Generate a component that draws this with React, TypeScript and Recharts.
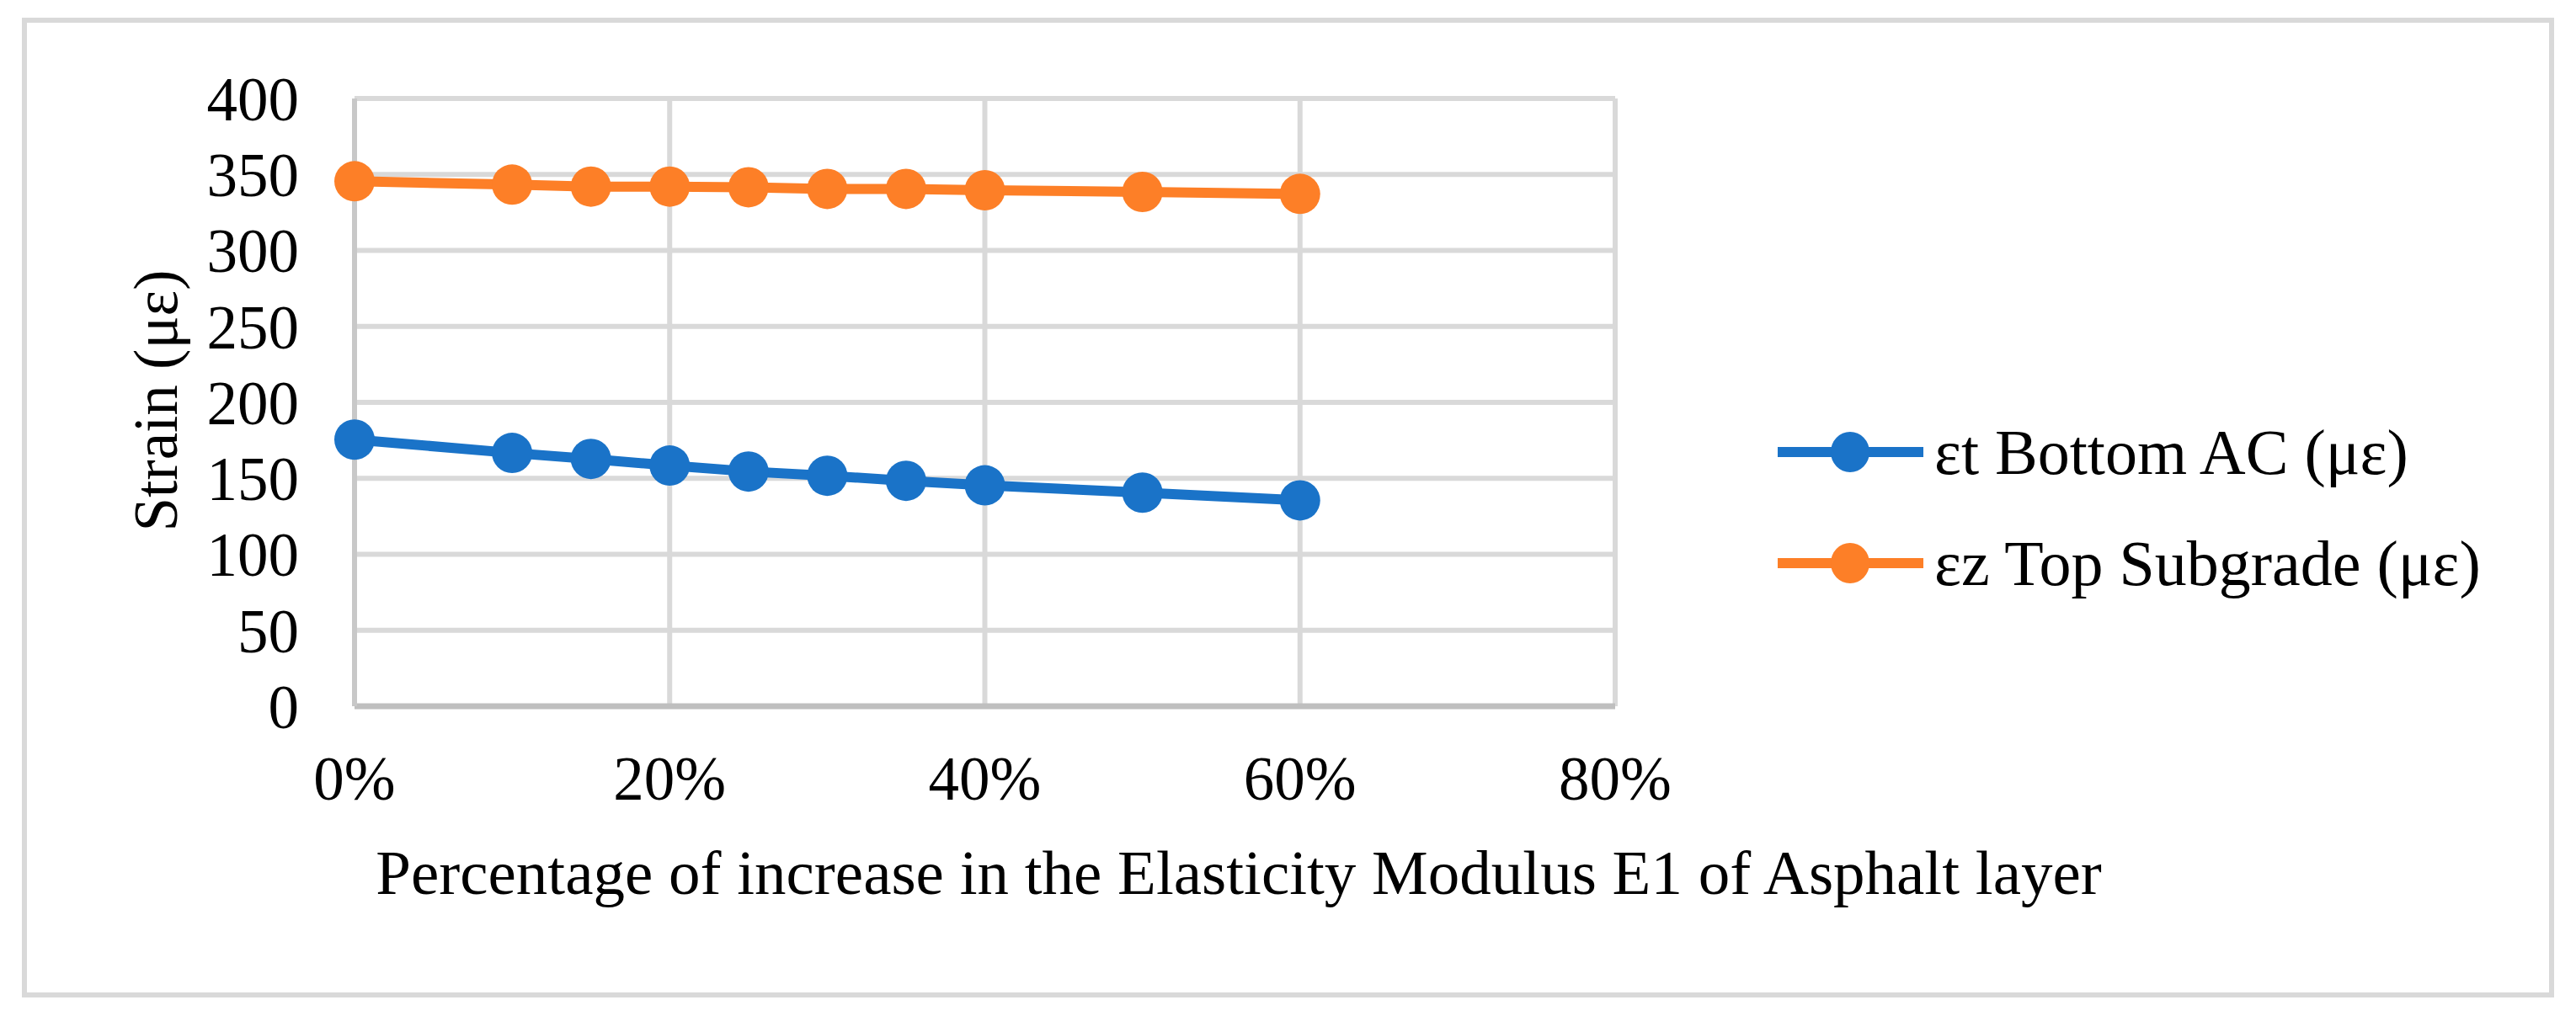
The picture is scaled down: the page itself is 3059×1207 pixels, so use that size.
import { LineChart, Line, XAxis, YAxis, CartesianGrid, Legend, Label } from 'recharts'

/* ── data ── */

const increasePct = [0, 0.1, 0.15, 0.2, 0.25, 0.3, 0.35, 0.4, 0.5, 0.6]
const strainBottomAC = [175.5, 166.7, 162.8, 158.4, 154.5, 151.7, 148.4, 145.4, 140.6, 135.5]
const strainTopSubgrade = [345.5, 343.3, 342, 342, 341.6, 340.5, 340.5, 339.6, 338.5, 337.2]
const xTicks = [0, 0.2, 0.4, 0.6, 0.8]
const yTicks = [0, 50, 100, 150, 200, 250, 300, 350, 400]

const SERIES = [
  { key: 'bottomAC', name: 'εt Bottom AC (με)', color: '#1A73C8' },
  { key: 'topSubgrade', name: 'εz Top Subgrade (με)', color: '#FD7F27' },
]

const FONT = '"Liberation Serif", "Times New Roman", serif'
const FS = 73
const LEGEND_W = 940

const data = increasePct.map((x, i) => ({
  x,
  bottomAC: strainBottomAC[i],
  topSubgrade: strainTopSubgrade[i],
}))

function fmtPct(v: number) {
  return Math.round(v * 100) + '%'
}

function LegendBox() {
  return (
    <div style={{ fontFamily: FONT, fontSize: 76, color: '#000' }}>
      {SERIES.map((s) => (
        <div key={s.key} style={{ display: 'flex', alignItems: 'center', height: 132 }}>
          <svg width={186} height={60} style={{ display: 'block' }}>
            <line x1={0} y1={30} x2={173} y2={30} stroke={s.color} strokeWidth={12} />
            <ellipse cx={86} cy={30} rx={23} ry={24} fill={s.color} />
          </svg>
          <span style={{ whiteSpace: 'nowrap', lineHeight: 1 }}>{s.name}</span>
        </div>
      ))}
    </div>
  )
}

export default function App() {
  return (
    <div style={{ position: 'absolute', left: 0, top: 0, width: 3059, height: 1207, background: '#fff' }}>
      <div
        style={{
          position: 'absolute', left: 26, top: 21, width: 3007, height: 1164,
          border: '6px solid #D9D9D9', boxSizing: 'border-box',
        }}
      />
      <div style={{ position: 'absolute', left: 0, top: 0 }}>
        {/* legend width gets added to the right offset, so margin.right = 1141 - LEGEND_W */}
        <LineChart
          width={3059}
          height={1207}
          data={data}
          margin={{ top: 117, right: 1141 - LEGEND_W, bottom: 268, left: 0 }}
        >
          <CartesianGrid stroke="#D9D9D9" strokeWidth={6} />
          <XAxis
            dataKey="x"
            type="number"
            domain={[0, 0.8]}
            ticks={xTicks}
            tickFormatter={fmtPct}
            height={100}
            tickSize={0}
            tickMargin={59}
            tickLine={false}
            axisLine={{ stroke: '#BFBFBF', strokeWidth: 7 }}
            tick={{ fill: '#000', fontSize: FS, fontFamily: FONT }}
          >
            <Label
              content={() => (
                <text
                  x={1471}
                  y={1062}
                  textAnchor="middle"
                  fontSize={75}
                  fontFamily={FONT}
                  fill="#000"
                >
                  Percentage of increase in the Elasticity Modulus E1 of Asphalt layer
                </text>
              )}
            />
          </XAxis>
          <YAxis
            type="number"
            domain={[0, 400]}
            ticks={yTicks}
            width={421}
            tickSize={0}
            tickMargin={66}
            tickLine={false}
            axisLine={{ stroke: '#C8C8C8', strokeWidth: 6 }}
            tick={{ fill: '#000', fontSize: FS, fontFamily: FONT }}
          >
            <Label
              content={() => (
                <text
                  x={0}
                  y={0}
                  transform="translate(185, 476) rotate(-90)"
                  textAnchor="middle"
                  dominantBaseline="central"
                  fontSize={FS}
                  fontFamily={FONT}
                  fill="#000"
                >
                  Strain (με)
                </text>
              )}
            />
          </YAxis>
          <Legend
            layout="horizontal"
            verticalAlign="middle"
            align="right"
            wrapperStyle={{ left: 2111, top: 471, width: LEGEND_W, right: 'auto' }}
            content={() => <LegendBox />}
          />
          {SERIES.map((s) => (
            <Line
              key={s.key}
              type="linear"
              dataKey={s.key}
              name={s.name}
              stroke={s.color}
              strokeWidth={12}
              dot={{ r: 24, fill: s.color, stroke: 'none' }}
              activeDot={false}
              isAnimationActive={false}
            />
          ))}
        </LineChart>
      </div>
    </div>
  )
}
